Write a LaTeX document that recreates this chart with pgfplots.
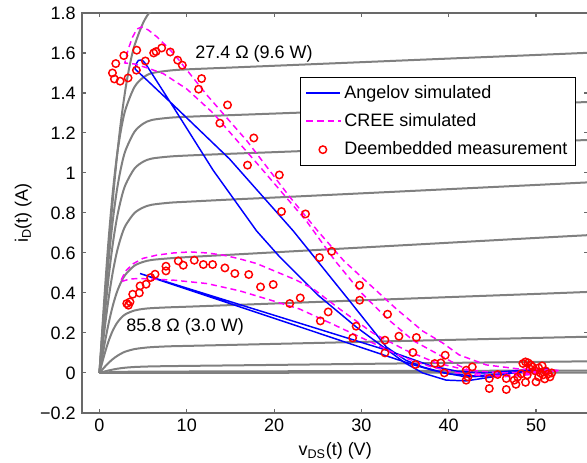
\documentclass[border=0pt]{standalone}
\usepackage{pgfplots}
\pgfplotsset{compat=1.18}
\usepackage{fontspec}
\setmainfont{Liberation Sans}
\definecolor{curvegray}{RGB}{128,128,128}
\definecolor{axgray}{RGB}{105,105,105}
\definecolor{mblue}{RGB}{0,0,255}
\definecolor{mmag}{RGB}{255,0,255}
\definecolor{mred}{RGB}{255,0,0}
\pgfplotsset{
 angstyle/.style={color=mblue, line width=1.1pt},
 creestyle/.style={color=mmag, line width=1.1pt, dash pattern=on 4.5pt off 3pt},
 measstyle/.style={color=mred, only marks, mark=o, mark size=2.8pt, line width=1.1pt},
}
\begin{document}
\fontsize{13.5}{16}\selectfont
\begin{tikzpicture}
\begin{axis}[
 name=ax, scale only axis, width=379.9pt, height=300pt,
 xmin=-2, xmax=56, ymin=-0.2, ymax=1.8,
 xtick={0,10,20,30,40,50},
 ytick={-0.2,0,0.2,0.4,0.6,0.8,1,1.2,1.4,1.6,1.8},
 yticklabels={−0.2,0,0.2,0.4,0.6,0.8,1,1.2,1.4,1.6,1.8},
 /pgf/number format/assume math mode=true,
 axis line style={axgray, line width=1pt},
 tick style={axgray, line width=0.8pt},
 major tick length=3pt,
 xlabel={v\textsubscript{DS}(t) (V)},
 ylabel={i\textsubscript{D}(t) (A)},
 xlabel style={at={(axis description cs:0.5,-0.106)}, anchor=base},
 ylabel style={at={(axis description cs:-0.1066,0.5)}, anchor=base},
 legend style={at={(0.430,0.8406)}, anchor=north west, fill=white,
   font=\fontsize{13.5}{16}\selectfont, row sep=5.5pt, inner xsep=4pt, inner ysep=4pt, cells={anchor=west}},
]
% ---- I-V family (gray) ----
\pgfplotsset{ivc/.style={curvegray, line width=1.5pt, smooth, tension=0.5, forget plot}}
\addplot[ivc] coordinates {(0,0)(0.5,0.300)(1,0.590)(1.5,0.850)(2,1.080)(2.5,1.270)(3,1.425)(3.5,1.545)(4,1.635)(5,1.750)(6,1.815)(8,1.870)(10,1.90)(56,1.99)};
\addplot[ivc] coordinates {(0,0)(0.5,0.335)(1,0.640)(1.5,0.891)(2,1.084)(2.5,1.223)(3,1.320)(4,1.429)(5,1.477)(6,1.499)(8,1.512)(10,1.518)(15,1.527)(20,1.536)(30,1.554)(40,1.572)(50,1.590)(56,1.601)};
\addplot[ivc] coordinates {(0,0)(0.5,0.282)(1,0.540)(1.5,0.751)(2,0.914)(2.5,1.032)(3,1.114)(4,1.205)(5,1.246)(6,1.265)(8,1.276)(10,1.281)(15,1.289)(20,1.297)(30,1.313)(40,1.329)(50,1.345)(56,1.355)};
\addplot[ivc] coordinates {(0,0)(0.5,0.239)(1,0.457)(1.5,0.636)(2,0.774)(2.5,0.873)(3,0.943)(4,1.021)(5,1.056)(6,1.072)(8,1.082)(10,1.087)(15,1.096)(20,1.104)(30,1.121)(40,1.138)(50,1.155)(56,1.165)};
\addplot[ivc] coordinates {(0,0)(0.5,0.186)(1,0.357)(1.5,0.497)(2,0.605)(2.5,0.683)(3,0.738)(4,0.799)(5,0.827)(6,0.841)(8,0.851)(10,0.856)(15,0.867)(20,0.877)(30,0.898)(40,0.919)(50,0.940)(56,0.953)};
\addplot[ivc] coordinates {(0,0)(0.5,0.124)(1,0.237)(1.5,0.331)(2,0.404)(2.5,0.456)(3,0.493)(4,0.536)(5,0.555)(6,0.565)(8,0.573)(10,0.579)(15,0.591)(20,0.603)(30,0.627)(40,0.651)(50,0.675)(56,0.689)};
\addplot[ivc] coordinates {(0,0)(0.5,0.081)(1,0.153)(1.5,0.209)(2,0.249)(2.5,0.276)(3,0.294)(4,0.312)(5,0.320)(6,0.324)(8,0.328)(10,0.331)(15,0.339)(20,0.347)(30,0.363)(40,0.379)(50,0.395)(56,0.405)};
\addplot[ivc] coordinates {(0,0)(0.5,0.025)(1,0.048)(1.5,0.068)(2,0.084)(2.5,0.097)(3,0.107)(4,0.119)(5,0.125)(6,0.129)(8,0.133)(10,0.135)(15,0.140)(20,0.145)(30,0.155)(40,0.165)(50,0.175)(56,0.181)};
\addplot[ivc] coordinates {(0,0)(0.5,0.006)(1,0.0116)(1.5,0.0165)(2,0.0206)(2.5,0.0238)(3,0.0263)(4,0.0295)(5,0.0313)(6,0.0325)(8,0.034)(10,0.035)(15,0.0375)(20,0.040)(30,0.045)(40,0.050)(50,0.055)(56,0.058)};
\addplot[ivc] coordinates {(0,0)(1,0.003)(2,0.005)(4,0.006)(10,0.007)(56,0.012)};
\addplot[ivc] coordinates {(0,0)(56,0.002)};
% ---- Angelov simulated ----
\addplot[angstyle, forget plot] coordinates {(51.5,0.02)(48.5,0.01)(45,-0.015)(42,-0.02)(39.5,0.0)(37,0.03)(35.1,0.063)(32.85,0.13)(28.65,0.36)(22.2,0.71)(14.9,1.07)(8.46,1.34)(4.08,1.52)(4.2,1.545)(4.46,1.563)(4.9,1.565)(5.3,1.545)(8.46,1.33)(13.03,1.013)(18,0.71)(20.65,0.58)(25,0.39)(29.4,0.23)(32.5,0.13)(35,0.05)(37,0.0)(39.7,-0.036)(42,-0.04)(45,-0.02)(48.5,0.013)(51.5,0.02)};
\addplot[angstyle, forget plot] coordinates {(51.5,0.02)(48,0.012)(44,0.0)(41,0.008)(38,0.035)(33,0.112)(21.8,0.264)(10,0.424)(4.65,0.497)(6,0.477)(21.8,0.247)(33,0.083)(36,0.04)(38,0.015)(40,-0.005)(43,-0.015)(47,-0.002)(51.5,0.02)};
% ---- CREE simulated ----
\addplot[creestyle, forget plot] coordinates {(52.6,0.013)(48,0.02)(44.3,0.04)(41.2,0.09)(39.3,0.15)(37,0.21)(34,0.32)(31,0.44)(28,0.56)(25,0.71)(21.8,0.88)(16.9,1.16)(12.3,1.39)(9,1.57)(8,1.62)(6.6,1.68)(5.6,1.715)(4.85,1.73)(4.3,1.72)(3.8,1.68)(3.3,1.62)(2.9,1.55)(4,1.545)(5.5,1.525)(7.3,1.497)(10,1.42)(13,1.30)(18.4,1.03)(23.7,0.76)(27,0.56)(30,0.40)(33,0.27)(36,0.16)(38.5,0.10)(41,0.04)(43,0.0)(46,-0.02)(49,-0.01)(52.6,0.013)};
\addplot[creestyle, forget plot] coordinates {(52.5,0.01)(50,0.005)(46,0.0)(42,0.015)(38.6,0.05)(35.1,0.113)(31.3,0.2)(27.5,0.32)(24.5,0.42)(22.5,0.465)(20.3,0.505)(18,0.547)(16,0.571)(14.2,0.589)(12.3,0.60)(10.4,0.605)(8.5,0.60)(6.56,0.589)(5,0.573)(3.9,0.547)(3.0,0.51)(2.37,0.455)(3.5,0.47)(4.65,0.472)(8.46,0.464)(12.3,0.447)(16.1,0.41)(19.9,0.36)(22.9,0.32)(26.4,0.25)(30.6,0.164)(34.7,0.08)(38,0.03)(41,0.0)(44,-0.015)(47,-0.01)(50,0.0)(52.5,0.01)};
% ---- Deembedded measurement ----
\addplot[measstyle, forget plot] coordinates {
(1.49,1.50)(1.71,1.47)(1.87,1.547)(2.37,1.459)(2.79,1.587)(3.28,1.475)(4.27,1.614)(4.23,1.514)(5.26,1.56)(6.21,1.60)(6.48,1.607)(7.13,1.625)(8.11,1.605)(8.96,1.564)(9.49,1.539)(11.36,1.419)(11.70,1.472)(13.79,1.249)(14.67,1.34)(16.96,1.039)(17.68,1.175)(20.6,0.99)(20.85,0.807)(23.6,0.795)(25.2,0.577)(26.6,0.608)(29.8,0.4385)(29.8,0.3635)(33.0,0.2935)(34.3,0.1835)(36.3,0.177)(35.9,0.102)(29.4,0.2335)(29.0,0.175)(26.2,0.305)(25.3,0.26)(23.0,0.375)(21.8,0.347)(32.7,0.1635)(32.7,0.10)(36.2,0.042)(38.4,0.047)(39.1,0.05)(39.5,0.0)(39.6,0.0885)(42.0,0.0135)(42.7,0.03)(42.0,-0.0365)(42.2,-0.02)(44.65,-0.028)(44.65,-0.078)(45.6,-0.008)(46.6,-0.028)(46.6,-0.083)(47.5,-0.0365)(47.7,-0.057)(47.9,-0.02)(48.5,0.047)(48.8,0.055)(48.8,-0.047)(50.0,-0.045)(49.1,0.05)(49.4,0.04)(49.6,0.03)(49.3,0.02)(49.9,0.01)(50.3,0.025)(50.5,0.0)(50.8,-0.01)(51.1,0.01)(51.4,-0.005)(51.6,-0.02)(51.0,-0.03)(50.3,-0.02)(49.0,-0.01)(48.3,-0.005)(51.8,0.0)(50.7,0.035)
(3.13,0.347)(3.32,0.3385)(3.5,0.355)(3.81,0.3935)(4.57,0.40)(4.65,0.435)(5.34,0.4435)(5.87,0.477)(6.37,0.4935)(7.62,0.51)(7.62,0.5335)(9.03,0.56)(9.6,0.5385)(10.86,0.5635)(11.9,0.542)(12.96,0.542)(14.37,0.525)(15.51,0.497)(17.1,0.492)(18.45,0.43)(19.9,0.442)};
% ---- legend ----
\addlegendimage{legend image code/.code={\draw[draw=mblue, line width=1.1pt] (0pt,0pt) -- (25pt,0pt);}}
\addlegendentry{Angelov simulated}
\addlegendimage{legend image code/.code={\draw[draw=mmag, line width=1.3pt] (0pt,0pt) -- (5pt,0pt) (8pt,0pt) -- (13pt,0pt) (16pt,0pt) -- (21pt,0pt) (24pt,0pt) -- (26pt,0pt);}}
\addlegendentry{CREE simulated}
\addlegendimage{legend image code/.code={\draw[draw=mred, line width=1.1pt] (12.5pt,0pt) circle[radius=2.8pt];}}
\addlegendentry{Deembedded measurement}
\node at (axis cs:17.7,1.595) {27.4 Ω (9.6 W)};
\node at (axis cs:9.82,0.228) {85.8 Ω (3.0 W)};
\coordinate (bbr) at (axis cs:55.84,1.8);
\end{axis}
\pgfresetboundingbox
\useasboundingbox ([xshift=-61.5pt,yshift=-37pt]ax.south west) rectangle ([yshift=9.75pt]bbr);
\end{tikzpicture}
\end{document}
